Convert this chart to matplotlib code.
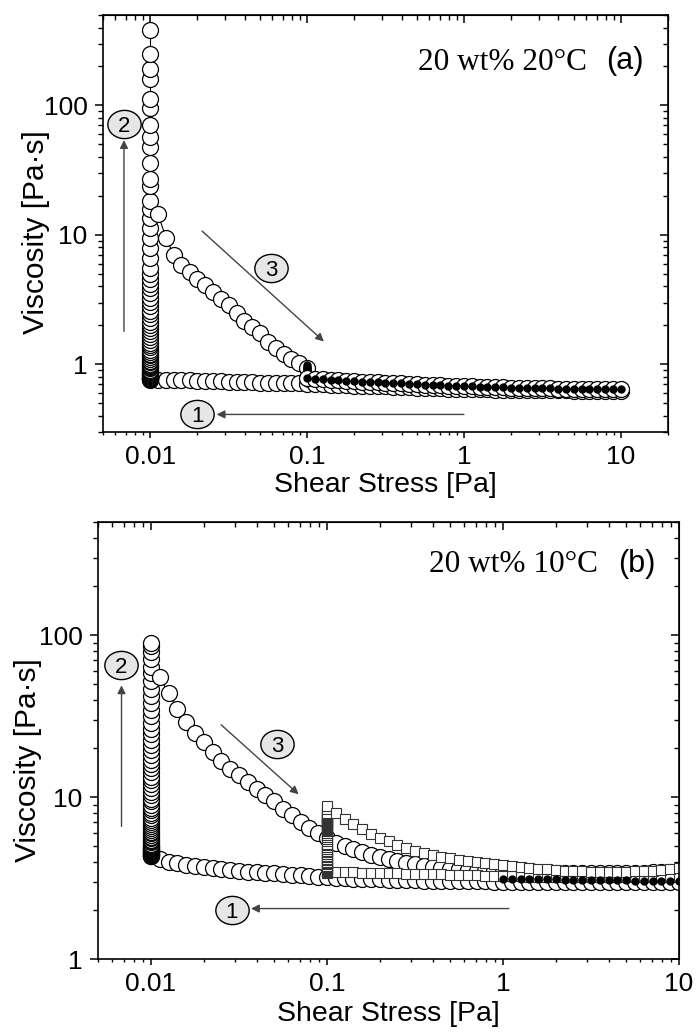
import numpy as np
import matplotlib.pyplot as plt
from matplotlib.ticker import LogLocator, NullFormatter
from matplotlib.path import Path
from matplotlib.transforms import Affine2D

plt.rcParams['font.family'] = ['Liberation Sans', 'DejaVu Sans']

# stress grid of the sweeps (20 points per decade)
STRESS = [0.01, 0.0112, 0.0126, 0.0141, 0.0158, 0.0178, 0.02, 0.0224, 0.0251, 0.0282,
          0.0316, 0.0355, 0.0398, 0.0447, 0.0501, 0.0562, 0.0631, 0.0708, 0.0794, 0.0891,
          0.1, 0.112, 0.126, 0.141, 0.158, 0.178, 0.2, 0.224, 0.251, 0.282,
          0.316, 0.355, 0.398, 0.447, 0.501, 0.562, 0.631, 0.708, 0.794, 0.891,
          1.0, 1.12, 1.26, 1.41, 1.58, 1.78, 2.0, 2.24, 2.51, 2.82,
          3.16, 3.55, 3.98, 4.47, 5.01, 5.62, 6.31, 7.08, 7.94, 8.91, 10.0]

# ---------------- (a) 20 wt% 20 C ----------------
A_STEP1 = [0.765, 0.762, 0.759, 0.756, 0.753, 0.750, 0.747, 0.744, 0.741, 0.738,
           0.735, 0.732, 0.729, 0.726, 0.723, 0.720, 0.718, 0.716, 0.714, 0.712,
           0.710, 0.706, 0.702, 0.698, 0.694, 0.690, 0.686, 0.683, 0.680, 0.677,
           0.674, 0.671, 0.668, 0.665, 0.662, 0.659, 0.656, 0.653, 0.650, 0.648,
           0.646, 0.644, 0.642, 0.640, 0.638, 0.636, 0.635, 0.634, 0.633, 0.632,
           0.631, 0.630, 0.629, 0.628, 0.627, 0.626, 0.625, 0.624, 0.623, 0.622, 0.620]
A_HOLD1 = [0.76, 0.765, 0.77, 0.775, 0.78, 0.79, 0.80, 0.81, 0.82, 0.83, 0.845, 0.86,
           0.875, 0.89, 0.91, 0.93, 0.95, 0.97, 0.99, 1.01, 1.04, 1.07, 1.10, 1.13,
           1.17, 1.21, 1.25, 1.30, 1.35, 1.41, 1.47, 1.54, 1.62, 1.70, 1.80, 1.90,
           2.01, 2.14, 2.28, 2.43, 2.60, 2.80, 3.02, 3.27, 3.55, 3.86, 4.2, 4.6, 5.0,
           5.5, 6.6, 7.9, 9.5, 11.3, 13.5, 15.8, 18.4, 24, 27, 36, 48, 57, 70, 96,
           113, 160, 190, 250, 380]
A_RAMP = [14.5, 9.5, 7.0, 5.9, 5.2, 4.6, 4.1, 3.65, 3.2, 2.85,
          2.48, 2.17, 1.93, 1.74, 1.5, 1.33, 1.2, 1.1, 1.02, 0.94]
A_HOLD2 = [0.98, 0.96, 0.94, 0.92, 0.90, 0.88, 0.86, 0.84, 0.82, 0.80, 0.78,
           0.76, 0.74, 0.72]
A_STEP3 = [0.780, 0.772, 0.765, 0.758, 0.752, 0.746, 0.741, 0.736, 0.731, 0.726,
           0.721, 0.716, 0.711, 0.706, 0.701, 0.697, 0.693, 0.689, 0.685, 0.681,
           0.677, 0.674, 0.671, 0.668, 0.666, 0.664, 0.662, 0.660, 0.658, 0.656,
           0.654, 0.652, 0.650, 0.648, 0.647, 0.646, 0.645, 0.644, 0.643, 0.642, 0.640]

# ---------------- (b) 20 wt% 10 C ----------------
B_STEP1 = [4.3, 4.12, 4.0, 3.9, 3.82, 3.75, 3.69, 3.64, 3.59, 3.55,
           3.51, 3.47, 3.44, 3.41, 3.38, 3.35, 3.32, 3.29, 3.26, 3.23,
           3.2, 3.18, 3.16, 3.14, 3.12, 3.11, 3.1, 3.09, 3.08, 3.07,
           3.06, 3.05, 3.05, 3.04, 3.04, 3.03, 3.03, 3.02, 3.02, 3.01,
           3.01, 3.0, 3.0, 3.0, 2.99, 2.99, 2.99, 2.98, 2.98, 2.98,
           2.98, 2.97, 2.97, 2.97, 2.97, 2.97, 2.97, 2.97, 2.97, 2.97, 2.97]
B_HOLD1 = [4.3, 4.33, 4.36, 4.4, 4.43, 4.47, 4.5, 4.54, 4.58, 4.62, 4.66, 4.7,
           4.75, 4.8, 4.85, 4.9, 4.96, 5.02, 5.08, 5.15, 5.25, 5.35, 5.46, 5.58,
           5.7, 5.83, 5.97, 6.1, 6.25, 6.4, 6.6, 6.8, 7.0, 7.2, 7.45, 7.7, 8.0, 8.3,
           8.6, 9.0, 9.4, 9.8, 10.3, 10.8, 11.4, 12.0, 12.7, 13.4, 14.2, 15.1, 16.0,
           17.0, 18.2, 19.5, 21, 22.6, 24.4, 26.5, 28.8, 31.5, 34.5, 38, 42, 46.5,
           52, 58, 64, 71, 79, 86, 90]
B_RAMP = [55, 44, 35, 29, 25, 22, 19, 16.8, 15.0, 13.6,
          12.4, 11.3, 10.3, 9.4, 8.5, 7.7, 7.0, 6.4, 6.0, 5.6,
          5.2, 5.0, 4.8, 4.6, 4.42, 4.27, 4.14, 4.03, 3.93, 3.85,
          3.77, 3.71, 3.66, 3.62, 3.58, 3.55, 3.52, 3.5, 3.48,
          3.46, 3.45, 3.44, 3.43, 3.42, 3.41, 3.4, 3.4, 3.39, 3.39,
          3.39, 3.39, 3.39, 3.4, 3.4, 3.41, 3.42, 3.43, 3.45, 3.47, 3.5]
# second run (squares): down sweep 10 -> 0.1, hold at 0.1, up sweep 0.1 -> 10
B_SQ_DOWN = [3.46, 3.45, 3.44, 3.43, 3.42, 3.41, 3.4, 3.39, 3.38, 3.37,
             3.36, 3.35, 3.34, 3.33, 3.32, 3.31, 3.3, 3.29, 3.28, 3.27,
             3.26, 3.25, 3.24, 3.23, 3.22, 3.21, 3.2, 3.2, 3.19, 3.19,
             3.19, 3.19, 3.19, 3.19, 3.2, 3.2, 3.2, 3.21, 3.22, 3.23, 3.25]
B_SQ_HOLD = [3.4, 3.45, 3.5, 3.55, 3.6, 3.66, 3.72, 3.78, 3.85, 3.92, 4.0, 4.08,
             4.16, 4.25, 4.35, 4.45, 4.55, 4.66, 4.78, 4.9, 5.03, 5.17, 5.32, 5.48,
             5.65, 5.82, 6.0, 6.15, 6.25, 6.35, 6.45, 6.55, 6.65, 6.75, 6.85, 6.95,
             7.05, 7.15, 7.25, 7.35, 7.45, 7.55, 7.65, 7.75, 7.85, 7.95, 8.4, 8.8]
B_SQ_UP = [8.0, 7.3, 6.8, 6.35, 5.95, 5.6, 5.35, 5.05, 4.82, 4.65,
           4.5, 4.38, 4.27, 4.18, 4.1, 4.04, 3.98, 3.92, 3.86, 3.8,
           3.75, 3.7, 3.66, 3.62, 3.58, 3.55, 3.52, 3.5, 3.48, 3.47,
           3.46, 3.46, 3.46, 3.47, 3.48, 3.5, 3.52, 3.55, 3.6, 3.67]
B_DOTS = [3.13, 3.12, 3.12, 3.11, 3.11, 3.1, 3.1, 3.09, 3.09, 3.08, 3.08,
          3.07, 3.07, 3.06, 3.06, 3.05, 3.05, 3.04, 3.04, 3.03, 3.03]

circ = dict(marker='o', ms=11.5, mfc='white', mec='black', mew=0.9, color='black', lw=0.8)
dot = dict(marker='o', ms=5, mfc='black', mec='black', color='black', lw=0.8)
sq = dict(marker='s', ms=6.8, mfc='white', mec='#333333', mew=0.8, color='#555555', lw=0.6)
ELLIPSE = Path.unit_circle().transformed(Affine2D().scale(1.18, 1.0))

fig = plt.figure(figsize=(6.98, 10.32), dpi=100)
ax1 = fig.add_axes([0.1476, 0.5814, 0.8095, 0.4041])
ax2 = fig.add_axes([0.1404, 0.0707, 0.8324, 0.4235])


def style(ax, xlim, ylim, xticks, yticks):
    ax.set_xscale('log')
    ax.set_yscale('log')
    ax.set_xlim(*xlim)
    ax.set_ylim(*ylim)
    ax.set_xticks(xticks)
    ax.set_xticklabels([f'{t:g}' for t in xticks])
    ax.set_yticks(yticks)
    ax.set_yticklabels([f'{t:g}' for t in yticks])
    for a in (ax.xaxis, ax.yaxis):
        a.set_minor_locator(LogLocator(base=10, subs=np.arange(2, 10), numticks=30))
        a.set_minor_formatter(NullFormatter())
    ax.tick_params(axis='x', which='major', direction='out', length=4, width=1.1, labelsize=19, pad=5.5)
    ax.tick_params(axis='x', which='minor', direction='out', length=2.5, width=1.0)
    ax.tick_params(axis='y', which='major', direction='out', length=6, width=1.1, labelsize=19, pad=5)
    ax.tick_params(axis='y', which='minor', direction='out', length=3.5, width=1.0)
    for s in ax.spines.values():
        s.set_linewidth(1.2)
    top = ax.secondary_xaxis('top')
    top.set_xticks(xticks)
    right = ax.secondary_yaxis('right')
    right.set_yticks(yticks)
    for sec, a in ((top, top.xaxis), (right, right.yaxis)):
        a.set_major_formatter(NullFormatter())
        a.set_minor_locator(LogLocator(base=10, subs=np.arange(2, 10), numticks=30))
        a.set_minor_formatter(NullFormatter())
        sec.tick_params(which='major', direction='in', length=6, width=1.1)
        sec.tick_params(which='minor', direction='in', length=3.5, width=1.0)
    ax.set_xlabel('Shear Stress [Pa]', fontsize=20.5)
    ax.set_ylabel('Viscosity [Pa·s]', fontsize=21.5)


def step(ax, num, pos, start, end):
    ax.annotate('', xy=end, xytext=start,
                arrowprops=dict(arrowstyle='-|>', color='#444444', lw=1.0,
                                mutation_scale=12, shrinkA=0, shrinkB=0))
    ax.plot([pos[0]], [pos[1]], ls='none', marker=ELLIPSE, ms=24, mfc='#e6e6e6',
            mec='black', mew=1.0, zorder=5)
    ax.text(pos[0], pos[1], num, ha='center', va='center_baseline', fontsize=16, zorder=6)


# panel (a)
ax1.plot(STRESS, A_STEP1, **circ)
ax1.plot([0.01] * len(A_HOLD1), A_HOLD1, **circ)
ax1.plot(STRESS[1:21], A_RAMP, **circ)
ax1.plot([0.1] * len(A_HOLD2), A_HOLD2, **dot)
ax1.plot(STRESS[20:], A_STEP3, **circ)
ax1.plot(STRESS[20:], A_STEP3, **dot)
style(ax1, (0.005, 20), (0.3, 500), [0.01, 0.1, 1, 10], [1, 10, 100])
ax1.xaxis.set_label_coords(0.5, -0.095)
ax1.yaxis.set_label_coords(-0.094, 0.48)
step(ax1, '1', (0.02, 0.41), (1.0, 0.41), (0.0265, 0.41))
step(ax1, '2', (0.0068, 72), (0.0068, 1.8), (0.0068, 54))
step(ax1, '3', (0.059, 5.5), (0.0214, 10.7), (0.128, 1.5))
ax1.text(0.857, 0.885, '20 wt% 20°C', transform=ax1.transAxes, ha='right', va='center',
         fontsize=22.5, family='Liberation Serif')
ax1.text(0.890, 0.890, '(a)', transform=ax1.transAxes, ha='left', va='center', fontsize=22)

# panel (b)
ax2.plot(STRESS, B_STEP1, **circ)
ax2.plot([0.01] * len(B_HOLD1), B_HOLD1, **circ)
ax2.plot(STRESS[1:], B_RAMP, **circ)
ax2.plot(STRESS[20:], B_SQ_DOWN, **sq)
ax2.plot([0.1] * len(B_SQ_HOLD), B_SQ_HOLD, **sq)
ax2.plot(STRESS[21:], B_SQ_UP, **sq)
ax2.plot(STRESS[40:], B_DOTS, marker='o', ms=5, mfc='black', mec='black', color='#3cb043', lw=1.2)
style(ax2, (0.005, 10), (1, 500), [0.01, 0.1, 1, 10], [1, 10, 100])
ax2.xaxis.set_label_coords(0.5, -0.095)
ax2.yaxis.set_label_coords(-0.096, 0.455)
step(ax2, '1', (0.0288, 2.0), (1.08, 2.05), (0.037, 2.05))
step(ax2, '2', (0.00675, 65), (0.0068, 6.6), (0.0068, 49))
step(ax2, '3', (0.052, 21.4), (0.025, 28), (0.069, 10.4))
ax2.text(0.861, 0.902, '20 wt% 10°C', transform=ax2.transAxes, ha='right', va='center',
         fontsize=22.5, family='Liberation Serif')
ax2.text(0.895, 0.905, '(b)', transform=ax2.transAxes, ha='left', va='center', fontsize=22)

fig.savefig('out.png', dpi=100)
